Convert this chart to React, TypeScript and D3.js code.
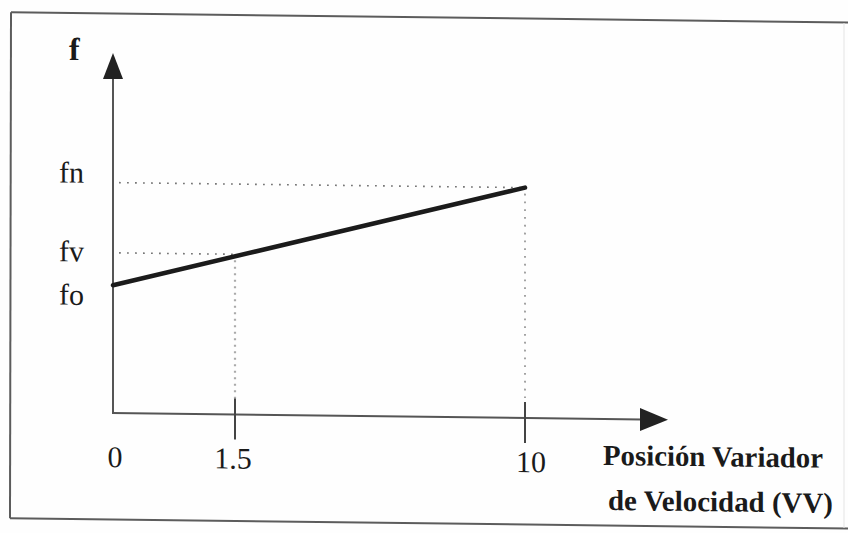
import React from "react";
import * as d3 from "d3";

// ---- data ----
const xTickValues = [0, 1.5, 10];
const xTickLabels = ["0", "1.5", "10"];
const yLevelNames = ["fo", "fv", "fn"];
const yLevelValues = [3.55, 4.45, 6.4];
const lineXs = [0, 10];
const lineYs = [3.55, 6.4];
const xAxisTitleLines = ["Posición Variador", "de Velocidad (VV)"];
const yAxisTitle = "f";

const W = 848;
const H = 533;

export default function App() {
  const x = d3.scaleLinear().domain([0, 1.5, 10]).range([113, 235, 525]);
  const y = d3.scaleLinear().domain([0, 10]).range([413, 53]);

  const x0 = x(0);
  const y0 = y(0);
  const xEnd = 668;
  const yEnd = y(10);

  const line = d3
    .line<number>()
    .x((_, i) => x(lineXs[i]))
    .y((d) => y(d));

  const fo = yLevelValues[0];
  const fv = yLevelValues[1];
  const fn = yLevelValues[2];

  const labelOffsets: Record<string, number> = { fn: 0.5, fv: 9, fo: 20 };
  const serif = "'Liberation Serif', 'Times New Roman', serif";
  const axisColor = "#555";

  return (
    <svg
      width={W}
      height={H}
      style={{ position: "absolute", left: 0, top: 0, background: "#fff" }}
    >
      <rect x={0} y={0} width={W} height={H} fill="#fefefe" />
      <g transform="translate(0,-1.38) skewY(0.7)">
        {/* frame */}
        <line x1={11} y1={13.5} x2={W} y2={13.5} stroke="#5c5c5c" strokeWidth={2} />
        <line x1={11} y1={13.5} x2={10} y2={519.5} stroke="#5c5c5c" strokeWidth={2} />
        <line x1={10} y1={519.5} x2={W} y2={519.5} stroke="#5c5c5c" strokeWidth={2} />
        <line x1={844} y1={14} x2={844} y2={519} stroke="#e4e4e4" strokeWidth={1} />

        {/* dotted guides */}
        <line x1={x0 + 6} y1={y(fn)} x2={x(10)} y2={y(fn)} stroke="#777" strokeWidth={1.6} strokeDasharray="1.8 6.2" />
        <line x1={x(10)} y1={y(fn) + 6} x2={x(10)} y2={y0 - 20} stroke="#999" strokeWidth={1.8} strokeDasharray="1.8 6" />
        <line x1={x0 + 6} y1={y(fv)} x2={x(1.5)} y2={y(fv)} stroke="#777" strokeWidth={1.6} strokeDasharray="1.8 6.2" />
        <line x1={x(1.5)} y1={y(fv) + 6} x2={x(1.5)} y2={y0 - 12} stroke="#aaa" strokeWidth={2.2} strokeDasharray="2 4.5" />

        {/* axes */}
        <line x1={x0} y1={y0} x2={x0} y2={yEnd + 22} stroke={axisColor} strokeWidth={2} />
        <polygon
          points={`${x0},${yEnd} ${x0 - 10},${yEnd + 26} ${x0 + 10},${yEnd + 26}`}
          fill="#222"
        />
        <line x1={x0 - 1} y1={y0} x2={xEnd - 26} y2={y0} stroke={axisColor} strokeWidth={2} />
        <polygon
          points={`${xEnd},${y0} ${xEnd - 28},${y0 - 11.5} ${xEnd - 28},${y0 + 11.5}`}
          fill="#222"
        />

        {/* ticks */}
        {xTickValues.slice(1).map((v) => (
          <line
            key={v}
            x1={x(v)}
            y1={y0 - 16}
            x2={x(v)}
            y2={y0 + 25}
            stroke="#444"
            strokeWidth={2}
          />
        ))}

        {/* data line */}
        <path
          d={line(lineYs) || ""}
          fill="none"
          stroke="#1b1b1b"
          strokeWidth={4.5}
          strokeLinecap="round"
        />

        {/* x tick labels */}
        {xTickValues.map((v, i) => (
          <text
            key={v}
            x={x(v) + (i === 2 ? 6 : i === 1 ? -2 : 2)}
            y={467}
            fontFamily={serif}
            fontSize={30}
            textAnchor="middle"
            fill="#1a1a1a"
          >
            {xTickLabels[i]}
          </text>
        ))}

        {/* y level labels */}
        {yLevelNames.map((name, i) => (
          <text
            key={name}
            x={59}
            y={y(yLevelValues[i]) + labelOffsets[name]}
            fontFamily={serif}
            fontSize={30}
            fill="#1a1a1a"
          >
            {name}
          </text>
        ))}

        {/* axis titles */}
        <text x={69} y={60.5} fontFamily={serif} fontSize={32} fontWeight="bold" fill="#1a1a1a">
          {yAxisTitle}
        </text>
        <text
          x={603}
          y={459}
          fontFamily={serif}
          fontSize={29}
          fontWeight="bold"
          fill="#1a1a1a"
          textLength={220}
          lengthAdjust="spacingAndGlyphs"
        >
          {xAxisTitleLines[0]}
        </text>
        <text
          x={608}
          y={504}
          fontFamily={serif}
          fontSize={29}
          fontWeight="bold"
          fill="#1a1a1a"
          textLength={225}
          lengthAdjust="spacingAndGlyphs"
        >
          {xAxisTitleLines[1]}
        </text>
      </g>
    </svg>
  );
}
